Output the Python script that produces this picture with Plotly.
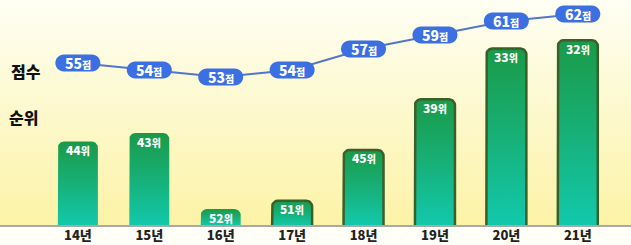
import numpy as np
import plotly.graph_objects as go

# ---- data ----
years = ["14년", "15년", "16년", "17년", "18년", "19년", "20년", "21년"]
scores = [55, 54, 53, 54, 57, 59, 61, 62]
ranks = [44, 43, 52, 51, 45, 39, 33, 32]
outlined = [False, False, False, True, True, True, True, True]

# ---- geometry / style ----
W, H = 631, 245
MB = 19
PH = H - MB
X0, X1 = -1.09, 7.745
RANK_BOTTOM, RANK_TOP = 54, 27.25
SCORE_LO, SCORE_HI = 31.7, 64.0
px_x = W / (X1 - X0)
px_r = PH / (RANK_BOTTOM - RANK_TOP)
BAR_HALF_PX = 20
CORNER_PX = 6
TEAL = "#12c9ad"
GREEN = "#1a9a48"
OUTLINE = "#3a5f2a"
PILL = "#3b6fe2"
LINE = "#5475cc"
FONT = "Noto Sans CJK KR"

xs = list(range(len(years)))
fig = go.Figure()

# background gradient over plot area
fig.add_trace(go.Scatter(
    x=[X0, X1, X1, X0, X0], y=[RANK_BOTTOM, RANK_BOTTOM, RANK_TOP, RANK_TOP, RANK_BOTTOM],
    mode="none", fill="toself", hoverinfo="skip", showlegend=False,
    fillgradient=dict(type="vertical", start=RANK_BOTTOM, stop=RANK_TOP,
                      colorscale=[[0, "#fcf3a6"], [0.5, "#fdf8cc"], [1, "#fffff4"]]),
))

hw = BAR_HALF_PX / px_x
rx = CORNER_PX / px_x
ry = CORNER_PX / px_r
for i, (c, r) in enumerate(zip(xs, ranks)):
    px, py = [c - hw], [RANK_BOTTOM]
    px.append(c - hw); py.append(r + ry)
    for t in np.linspace(np.pi, np.pi / 2, 10):
        px.append(c - hw + rx + rx * np.cos(t)); py.append(r + ry - ry * np.sin(t))
    for t in np.linspace(np.pi / 2, 0, 10):
        px.append(c + hw - rx + rx * np.cos(t)); py.append(r + ry - ry * np.sin(t))
    px.append(c + hw); py.append(RANK_BOTTOM)
    fig.add_trace(go.Scatter(
        x=px, y=py, mode="lines", fill="toself", hoverinfo="skip", showlegend=False,
        line=dict(color=OUTLINE if outlined[i] else "rgba(0,0,0,0)", width=2.5),
        fillgradient=dict(type="vertical", start=RANK_BOTTOM, stop=r,
                          colorscale=[[0, TEAL], [0.5, "#17b078"], [1, GREEN]]),
    ))

# score line
fig.add_trace(go.Scatter(x=xs, y=scores, yaxis="y2", mode="lines",
                         line=dict(color=LINE, width=2), hoverinfo="skip", showlegend=False))

shapes = []
shapes.append(dict(type="line", xref="paper", yref="paper", x0=0, x1=1, y0=0, y1=0,
                   line=dict(color="#a9a9a9", width=2), layer="above"))
hwp, hhp = 22.5, 8.5
k = 0.5523 * hhp
a = hwp - hhp
pill_path = (f"M {-a},{-hhp} L {a},{-hhp} C {a+k},{-hhp} {hwp},{-k} {hwp},0 "
             f"C {hwp},{k} {a+k},{hhp} {a},{hhp} L {-a},{hhp} "
             f"C {-a-k},{hhp} {-hwp},{k} {-hwp},0 C {-hwp},{-k} {-a-k},{-hhp} {-a},{-hhp} Z")
for c, s in zip(xs, scores):
    shapes.append(dict(type="path", xref="x", yref="y2", xsizemode="pixel", ysizemode="pixel",
                       xanchor=c, yanchor=s, path=pill_path, fillcolor=PILL,
                       line=dict(width=0), layer="above"))

ann = []
for c, s in zip(xs, scores):
    ann.append(dict(x=c, y=s, xref="x", yref="y2", showarrow=False, borderpad=0,
                    text=f"{s}<span style='font-size:10px'>점</span>",
                    font=dict(family=FONT, size=14, color="white", weight=900)))
for c, r in zip(xs, ranks):
    ann.append(dict(x=c, y=r, xref="x", yref="y", showarrow=False, yanchor="middle",
                    yshift=-8, borderpad=0,
                    text=f"{r}<span style='font-size:10px'>위</span>",
                    font=dict(family=FONT, size=12, color="white", weight=900)))
ann.append(dict(x=9 / W, y=(H - 57 - MB) / PH, xref="paper", yref="paper", xanchor="left",
                showarrow=False, text="점수",
                font=dict(family=FONT, size=16, color="#111", weight=900)))
ann.append(dict(x=7 / W, y=(H - 117 - MB) / PH, xref="paper", yref="paper", xanchor="left",
                showarrow=False, text="순위",
                font=dict(family=FONT, size=16, color="#111", weight=900)))

fig.update_layout(
    width=W, height=H, margin=dict(l=0, r=0, t=0, b=MB, autoexpand=False),
    paper_bgcolor="#fffff8", plot_bgcolor="#fffff8",
    shapes=shapes, annotations=ann,
    xaxis=dict(range=[X0, X1], tickmode="array", tickvals=xs, ticktext=years,
               tickfont=dict(family=FONT, size=13, color="#222", weight=900),
               automargin=False,
               showgrid=False, zeroline=False, showline=False, ticks="", ticklen=0),
    yaxis=dict(range=[RANK_BOTTOM, RANK_TOP], visible=False, showgrid=False),
    yaxis2=dict(range=[SCORE_LO, SCORE_HI], overlaying="y", visible=False, showgrid=False),
)

fig.write_html("out.html")
